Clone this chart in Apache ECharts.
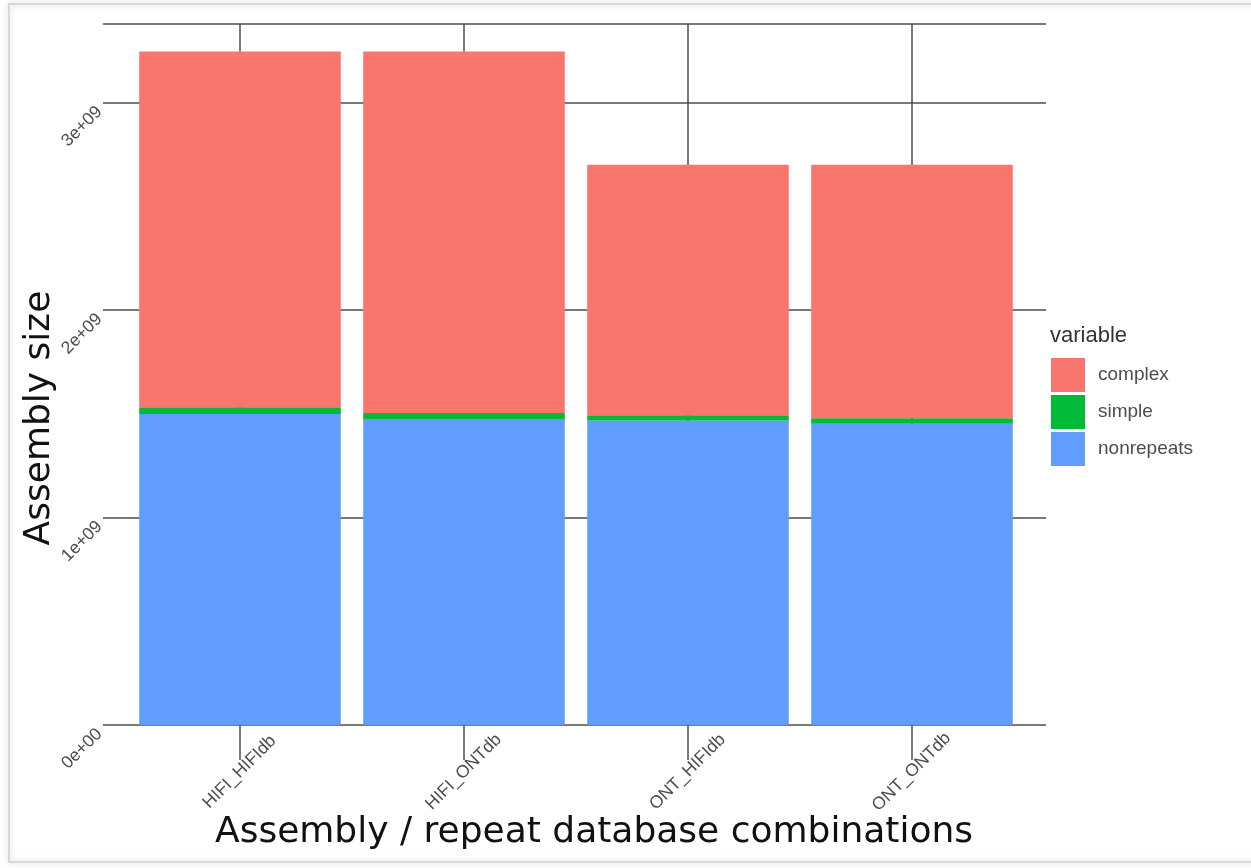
<!DOCTYPE html>
<html>
<head>
<meta charset="utf-8">
<script src="https://cdn.jsdelivr.net/npm/echarts@6/dist/echarts.min.js"></script>
<style>
html,body{margin:0;padding:0;background:#ffffff;}
#chart{width:1251px;height:868px;}
</style>
</head>
<body>
<div id="chart"></div>
<script>
// ---- data ----
var categories = ['HIFI_HIFIdb', 'HIFI_ONTdb', 'ONT_HIFIdb', 'ONT_ONTdb'];
var categoryPositions = [1, 2, 3, 4];
var nonrepeats = [1.500e9, 1.475e9, 1.468e9, 1.453e9];
var simple = [0.032e9, 0.029e9, 0.025e9, 0.026e9];
var complex = [1.716e9, 1.744e9, 1.208e9, 1.222e9];
var yTicks = [0, 1e9, 2e9, 3e9];
var yTickLabels = ['0e+00', '1e+09', '2e+09', '3e+09'];
var legendOrder = ['complex', 'simple', 'nonrepeats'];

var colors = { complex: '#F8766D', simple: '#00BA38', nonrepeats: '#619CFF' };
var lineColor = '#4d4d4d';
var yMax = 3.38e9;

var chart = echarts.init(document.getElementById('chart'), null, { renderer: 'canvas' });

function mkSeries(name, arr) {
  return {
    name: name,
    type: 'bar',
    stack: 'total',
    xAxisIndex: 0,
    yAxisIndex: 0,
    barWidth: '90%',
    data: arr,
    itemStyle: { color: colors[name] },
    emphasis: { disabled: true }
  };
}

var option = {
  animation: false,
  backgroundColor: '#ffffff',
  grid: [
    // bar area: 4 category bands of equal width
    { left: 128, top: 24, right: 227, bottom: 143, containLabel: false },
    // panel area (grid lines / labels), wider like ggplot's discrete expansion
    { left: 103, top: 24, right: 205, bottom: 143, containLabel: false }
  ],
  xAxis: [
    {
      type: 'category',
      gridIndex: 0,
      data: categories,
      show: false
    },
    {
      type: 'value',
      gridIndex: 1,
      min: 0.39,
      max: 4.6,
      axisLine: { show: false },
      axisTick: {
        show: true,
        customValues: categoryPositions,
        length: 35,
        lineStyle: { color: lineColor, width: 1.5 }
      },
      axisLabel: {
        customValues: categoryPositions,
        rotate: 45,
        margin: 47,
        align: 'center',
        verticalAlign: 'middle',
        fontFamily: 'Liberation Sans',
        fontSize: 17.5,
        color: lineColor,
        formatter: function (v) { return categories[Math.round(v) - 1] || ''; }
      },
      splitLine: { show: true, lineStyle: { color: lineColor, width: 1.5 } }
    }
  ],
  yAxis: [
    {
      type: 'value',
      gridIndex: 0,
      min: 0,
      max: yMax,
      show: false
    },
    {
      type: 'value',
      gridIndex: 1,
      min: 0,
      max: yMax,
      interval: 1e9,
      axisLine: { show: false },
      axisTick: { show: false },
      axisLabel: {
        rotate: 45,
        margin: 10,
        align: 'right',
        verticalAlign: 'top',
        fontFamily: 'Liberation Sans',
        fontSize: 17.5,
        color: lineColor,
        formatter: function (v) {
          var i = yTicks.indexOf(v);
          return i >= 0 ? yTickLabels[i] : '';
        }
      },
      splitLine: { show: true, lineStyle: { color: lineColor, width: 1.5 } }
    }
  ],
  legend: {
    data: legendOrder,
    orient: 'vertical',
    left: 1046,
    top: 353,
    itemWidth: 34,
    itemHeight: 34,
    itemGap: 3,
    icon: 'rect',
    selectedMode: false,
    textStyle: {
      fontFamily: 'Liberation Sans',
      fontSize: 19,
      color: '#4d4d4d',
      padding: [0, 0, 0, 8]
    }
  },
  graphic: [
    {
      type: 'rect',
      z: -10,
      silent: true,
      shape: { x: 9, y: 4, width: 1262, height: 858 },
      style: {
        fill: 'transparent',
        stroke: '#cfcfcf',
        lineWidth: 1.5,
        shadowBlur: 6,
        shadowColor: 'rgba(0,0,0,0.25)'
      }
    },
    {
      type: 'text',
      left: 1050,
      top: 325,
      silent: true,
      style: {
        text: 'variable',
        fontFamily: 'Liberation Sans',
        fontSize: 22,
        fill: '#333333'
      }
    },
    {
      type: 'text',
      silent: true,
      x: 40,
      y: 418,
      rotation: Math.PI / 2,
      style: {
        text: 'Assembly size',
        fontFamily: 'DejaVu Sans',
        fontSize: 36,
        fill: '#111111',
        textAlign: 'center',
        textVerticalAlign: 'middle'
      }
    },
    {
      type: 'text',
      silent: true,
      x: 594,
      y: 833,
      style: {
        text: 'Assembly / repeat database combinations',
        fontFamily: 'DejaVu Sans',
        fontSize: 36,
        fill: '#111111',
        textAlign: 'center',
        textVerticalAlign: 'middle'
      }
    }
  ],
  series: [
    mkSeries('nonrepeats', nonrepeats),
    mkSeries('simple', simple),
    mkSeries('complex', complex)
  ]
};

chart.setOption(option);
</script>
</body>
</html>
